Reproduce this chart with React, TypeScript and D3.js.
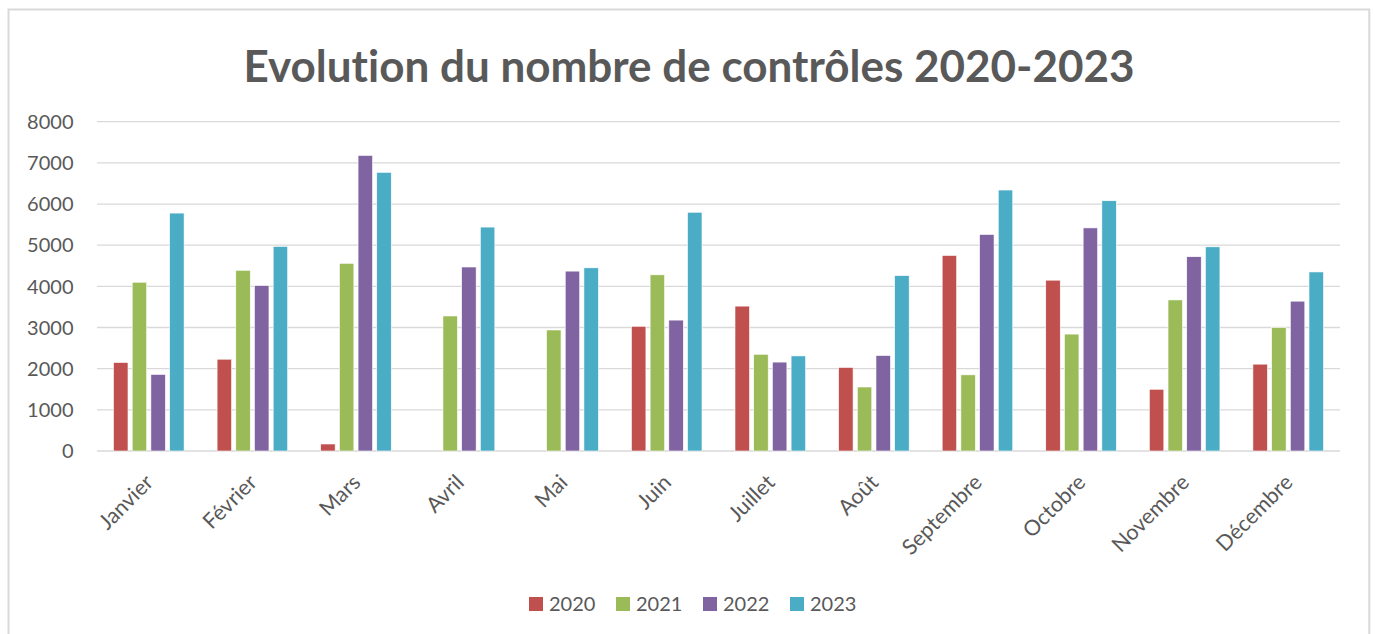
import React from "react";
import * as d3 from "d3";

const months = ["Janvier", "Février", "Mars", "Avril", "Mai", "Juin", "Juillet", "Août", "Septembre", "Octobre", "Novembre", "Décembre"];
const seriesNames = ["2020", "2021", "2022", "2023"];
const values2020 = [2150, 2230, 170, 0, 0, 3030, 3520, 2030, 4750, 4150, 1500, 2110];
const values2021 = [4100, 4390, 4560, 3280, 2940, 4280, 2350, 1555, 1850, 2840, 3670, 3000];
const values2022 = [1860, 4020, 7180, 4470, 4370, 3180, 2160, 2320, 5260, 5420, 4720, 3640];
const values2023 = [5780, 4970, 6770, 5440, 4450, 5800, 2310, 4260, 6340, 6080, 4960, 4350];
const yTicks = [0, 1000, 2000, 3000, 4000, 5000, 6000, 7000, 8000];
const colors = ["#C0504D", "#9BBB59", "#8064A2", "#4BACC6"];
const title = "Evolution du nombre de contrôles 2020-2023";

const W = 1375;
const H = 634;
const FONT = "Lato, 'Open Sans', sans-serif";
const TEXT = "#595959";

export default function App() {
  const allSeries = [values2020, values2021, values2022, values2023];
  const plotL = 97, plotR = 1340, y0 = 451, yTop = 121.7;
  const x = d3.scaleBand<string>().domain(months).range([plotL, plotR]).paddingInner(0).paddingOuter(0);
  const bw = x.bandwidth();
  const groupW = bw * 0.722;
  const xs = d3.scaleBand<string>().domain(seriesNames).range([(bw - groupW) / 2, (bw + groupW) / 2]).paddingInner(0.225).paddingOuter(0.1125);
  const y = d3.scaleLinear().domain([0, 8000]).range([y0, yTop]);

  const legendX0 = 529, legendStep = 87, legendY = 597;

  return (
    <svg width={W} height={H} style={{ position: "absolute", left: 0, top: 0, background: "#fff", fontVariantLigatures: "none" }} fontFamily={FONT}>
      <rect x={0} y={0} width={W} height={H} fill="#fff" />
      <rect x={8.5} y={9.5} width={1360.8} height={660} fill="#fff" stroke="#D9D9D9" strokeWidth={2} />
      <text x={689} y={81.5} textAnchor="middle" fontSize={44} fontWeight="bold" fill={TEXT}>{title}</text>
      {yTicks.map((t) => (
        <g key={t}>
          <line x1={plotL} x2={plotR} y1={y(t)} y2={y(t)} stroke="#D9D9D9" strokeWidth={1.3} />
          <text x={73.5} y={y(t)} dy="0.36em" textAnchor="end" fontSize={20} fill={TEXT}>{t}</text>
        </g>
      ))}
      {months.map((m, i) => (
        <g key={m} transform={`translate(${x(m)},0)`}>
          {allSeries.map((vals, s) => (
            vals[i] > 0 ? (
              <rect key={s} x={xs(seriesNames[s])} y={y(vals[i])} width={xs.bandwidth()} height={y0 - y(vals[i])} fill={colors[s]} stroke="#fff" strokeWidth={0.6} />
            ) : null
          ))}
        </g>
      ))}
      {months.map((m) => {
        const cx = (x(m) as number) + bw / 2 - 5;
        return (
          <text key={m} transform={`translate(${cx},473) rotate(-45)`} dy="0.71em" textAnchor="end" fontSize={21.5} fill={TEXT}>{m}</text>
        );
      })}
      {seriesNames.map((s, i) => (
        <g key={s} transform={`translate(${legendX0 + i * legendStep},${legendY})`}>
          <rect x={0} y={0} width={14} height={14} fill={colors[i]} />
          <text x={20} y={7} dy="0.36em" fontSize={20} fill={TEXT}>{s}</text>
        </g>
      ))}
    </svg>
  );
}
